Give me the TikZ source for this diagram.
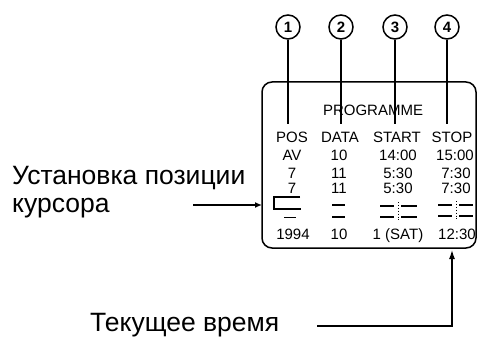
\documentclass[tikz,border=0pt]{standalone}
\usepackage{fontspec}
\setmainfont{Liberation Sans}
\usetikzlibrary{arrows.meta}
\begin{document}
\begin{tikzpicture}[x=1pt,y=-1pt,
  num/.style={draw,circle,line width=1.5pt,minimum size=24pt,inner sep=0pt,font=\fontsize{15}{15}\selectfont\bfseries},
  lcd/.style={font=\fontsize{15}{15}\selectfont,inner sep=0pt,anchor=center},
  lcdb/.style={font=\fontsize{15}{15}\selectfont,inner sep=0pt,anchor=base},
  lab/.style={font=\fontsize{26.5}{26.5}\selectfont,inner sep=0pt,anchor=base west},
  ln/.style={line width=1.3pt},
  seg/.style={line width=1.4pt},
  dots/.style={line width=0.9pt,dotted}]
\useasboundingbox (0,0) rectangle (477,337);
% display frame
\draw[line width=1.5pt,rounded corners=10pt] (262,82) rectangle (476,248);
\coordinate (frameL) at (262,205);
% callout circles
\node[num] (c1) at (288,27) {1};
\node[num] (c2) at (341,27) {2};
\node[num] (c3) at (395,27) {3};
\node[num] (c4) at (447,27) {4};
\coordinate (e1) at (288,124);
\coordinate (e2) at (341,124);
\coordinate (e3) at (395,124);
\coordinate (e4) at (447,124);
\draw[ln] (c1.south) -- (e1);
\draw[ln] (c2.south) -- (e2);
\draw[ln] (c3.south) -- (e3);
\draw[ln] (c4.south) -- (e4);
% texts
\node[lcd] (prog) at (373,110) {PROGRAMME};
\node[lcd] (h1) at (292,137) {POS};
\node[lcd] (h2) at (340,137) {DATA};
\node[lcd] (h3) at (397,137) {START};
\node[lcd] (h4) at (452,137) {STOP};
\node[lcd] (a1) at (292,155) {AV};
\node[lcd] (a2) at (339,155) {10};
\node[lcd] (a3) at (398,155) {14:00};
\node[lcd] (a4) at (455,155) {15:00};
\node[lcd] (b1) at (292,173) {7};
\node[lcd] (b2) at (339,173) {11};
\node[lcd] (b3) at (398,173) {5:30};
\node[lcd] (b4) at (456,173) {7:30};
\node[lcd] (d1) at (292,188) {7};
\node[lcd] (d2) at (339,188) {11};
\node[lcd] (d3) at (398,188) {5:30};
\node[lcd] (d4) at (456,188) {7:30};
\node[lcdb] (f1) at (293,239.5) {1994};
\node[lcdb] (f2) at (339,239.5) {10};
\node[lcdb] (f3) at (398,239.5) {1 (SAT)};
\node[lcdb] (f4) at (457,239.5) {12:30};
% cursor
\draw[seg] (300,197) -- (274,197) -- (274,209) -- (301,209);
\draw[line width=0.9pt] (284,217) -- (296,217);
% blank fields
\draw[seg] (332,205) -- (345,205) (332,217) -- (345,217);
\draw[seg] (380,206) -- (394,206) (380,217) -- (394,217)
           (401,206) -- (417,206) (401,217) -- (417,217);
\draw[dots] (398,202) -- (398,222);
\draw[seg] (438,205) -- (452,205) (438,216) -- (452,216)
           (459,205) -- (473,205) (459,216) -- (473,216);
\draw[dots] (456,201) -- (456,221);
% labels
\node[lab] (t1) at (12,184) {Установка позиции};
\node[lab] (t2) at (12,212) {курсора};
\node[lab] (t3) at (90,331) {Текущее время};
\coordinate (s1) at (193,205);
\draw[ln,-{Latex[length=7pt,width=6pt]}] (s1) -- (frameL);
\coordinate (s3) at (317,326);
\coordinate (k3) at (452,326);
\coordinate (clk) at (452,250);
\draw[ln,-{Latex[length=9pt,width=6pt]}] (s3) -- (k3) -- (clk);
\end{tikzpicture}
\end{document}
